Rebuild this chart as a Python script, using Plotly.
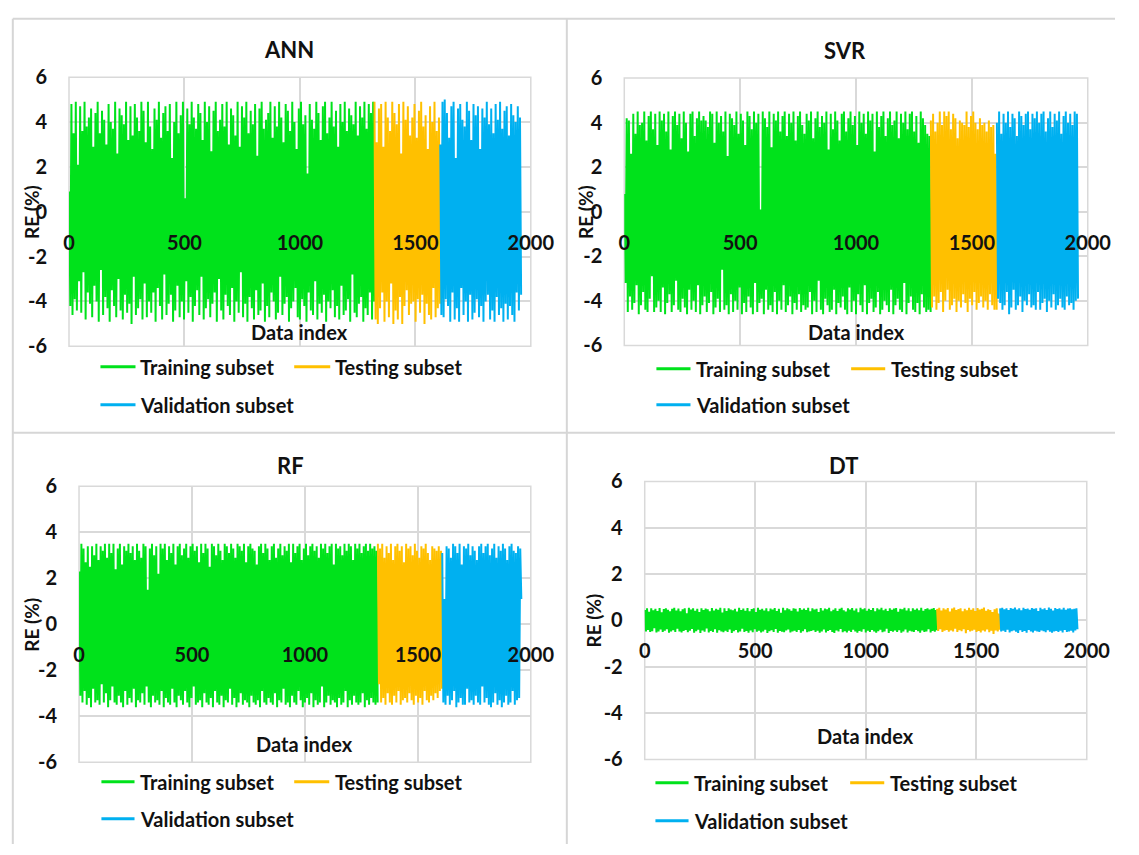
import numpy as np
import plotly.graph_objects as go

W, H = 1139, 855
FONT = "Lato, 'Open Sans', sans-serif"
TXT = "#111111"
GREEN, ORANGE, BLUE = "#00E21B", "#FFC000", "#00B0F0"
GRID = "#D9D9D9"

subset_names = ["Training subset", "Testing subset", "Validation subset"]
subset_colors = [GREEN, ORANGE, BLUE]
subset_ranges = [(1, 1322), (1323, 1607), (1608, 1958)]

x_ticks = [0, 500, 1000, 1500, 2000]
x_ticktext = ["0", "500", "1000", "1500", "2000"]
y_ticks = [-6, -4, -2, 0, 2, 4, 6]
y_ticktext = ["-6", "-4", "-2", "0", "2", "4", "6"]

# ---------------- ANN ----------------
ann_train = [0.9, -4.2, 4.8, -4.6, 3.5, -3.9, 4.9, -4.4, 2.1, -3.1, 4.7, -4.5, 3.6, -2.7, 4.9, -4.8, 3.8, -3.6, 4.2, -4.1,
             4.6, -4.7, 2.9, -3.3, 4.4, -4.0, 4.9, -4.9, 3.5, -2.6, 4.5, -4.6, 4.1, -3.8, 3.0, -4.3, 4.8, -4.9, 4.0, -3.5,
             3.7, -4.2, 4.9, -4.7, 2.6, -3.0, 4.6, -4.4, 4.3, -4.8, 3.9, -3.7, 4.9, -4.5, 3.2, -4.1, 4.7, -5.0, 3.4, -2.9,
             4.8, -4.6, 4.2, -4.3, 3.6, -3.9, 4.9, -4.8, 4.5, -3.2, 3.1, -4.7, 4.9, -4.0, 3.8, -4.5, 2.8, -3.6, 4.6, -4.9,
             4.1, -3.4, 4.9, -4.2, 3.3, -4.8, 4.4, -2.8, 4.7, -4.6, 3.6, -4.1, 4.8, -3.7, 2.4, -4.9, 4.0, -4.4, 4.9, -3.3,
             3.5, -4.7, 4.3, -4.0, 4.9, -4.8, 0.6, -3.1, 4.6, -4.5, 3.9, -3.8, 4.9, -4.9, 4.2, -4.2, 3.7, -3.5, 4.8, -4.6,
             4.4, -2.9, 3.2, -4.8, 4.9, -4.3, 4.0, -3.9, 4.7, -4.7, 2.7, -4.1, 4.5, -3.6, 4.9, -4.9, 3.6, -3.0, 4.1, -4.4,
             4.8, -4.8, 3.8, -3.7, 4.9, -4.2, 3.0, -4.6, 4.6, -3.4, 4.3, -4.9, 3.4, -4.0, 4.9, -4.5, 2.9, -2.7, 4.7, -4.7,
             4.2, -4.1, 4.9, -4.9, 3.5, -3.8, 4.5, -4.3, 3.9, -4.8, 4.8, -3.5, 2.5, -4.6, 4.6, -4.4, 4.9, -3.2, 3.7, -4.9,
             4.1, -4.2, 4.4, -4.7, 4.9, -3.6, 3.3, -4.0, 4.7, -4.8, 3.8, -4.5, 4.9, -2.9, 4.2, -4.6, 3.1, -4.1, 4.8, -3.8,
             4.5, -4.9, 3.6, -4.3, 4.9, -4.0, 4.0, -3.4, 2.8, -4.7, 4.6, -4.8, 4.9, -3.9, 3.9, -4.2, 4.3, -4.9, 1.7, -3.6,
             4.8, -4.4, 4.1, -4.6, 3.7, -3.1, 4.9, -4.8, 4.4, -4.1, 3.2, -4.5, 4.7, -3.7, 4.9, -4.9, 3.5, -4.0, 4.2, -4.3,
             4.9, -3.5, 3.8, -4.7, 4.5, -4.2, 2.9, -4.8, 4.8, -3.3, 4.0, -4.6, 4.9, -4.4, 3.6, -3.9, 4.6, -4.9, 4.3, -2.8,
             3.9, -4.5, 4.9, -4.7, 3.4, -4.1, 4.7, -3.8, 4.2, -4.9, 4.9, -4.3, 3.7, -4.6, 4.8, -3.6, 4.4, -4.8, 4.9, -4.0]
ann_test = [4.9, -4.8, 3.1, -5.0, 4.6, -4.3, 4.8, -3.6, 2.9, -4.9, 4.9, -4.0, 4.2, -4.7, 3.6, -3.2, 4.9, -5.0, 4.4, -4.4,
            3.9, -4.8, 4.8, -3.8, 2.6, -5.0, 4.9, -4.2, 4.1, -3.5, 4.7, -4.6, 3.4, -4.1, 4.2, -4.0, 4.8, -4.9, 3.3, -3.9,
            4.5, -4.5, 4.9, -3.7, 3.8, -5.0, 4.3, -4.1, 2.8, -4.6, 4.7, -4.8, 4.0, -3.4, 4.9, -4.7, 3.6, -4.3, 4.2, -4.1]
ann_val = [3.0, -4.6, 4.9, -4.7, 5.0, -3.9, 4.4, -4.2, 3.3, -4.9, 4.7, -3.6, 4.9, -4.8, 2.4, -4.3, 4.6, -4.9, 4.8, -3.4,
           4.1, -4.6, 3.8, -4.0, 4.9, -4.9, 4.5, -3.7, 3.2, -4.8, 4.8, -4.5, 4.3, -3.9, 4.7, -4.7, 2.8, -4.2, 4.6, -4.9,
           4.2, -4.0, 4.9, -3.7, 3.9, -4.8, 4.6, -4.4, 3.5, -4.9, 4.8, -3.8, 4.1, -4.6, 4.9, -4.3, 3.7, -4.9, 4.5, -4.1,
           4.7, -4.8, 3.4, -4.2, 4.8, -4.6, 4.3, -4.9, 4.0, -3.6, 4.7, -4.4, 4.2, -3.7]

# ---------------- SVR ----------------
svr_train = [0.8, -3.2, 4.2, -4.5, 4.1, -3.8, 2.6, -4.4, 4.4, -4.1, 3.5, -3.3, 4.5, -4.6, 3.9, -4.2, 4.0, -3.6, 4.5, -4.4,
             3.2, -4.5, 4.3, -3.9, 4.5, -2.9, 3.7, -4.5, 4.4, -4.3, 3.0, -4.0, 4.5, -4.5, 4.1, -3.4, 4.4, -4.6, 3.6, -4.1,
             4.5, -3.7, 2.8, -4.5, 4.3, -4.2, 4.5, -3.1, 3.9, -4.4, 4.4, -4.5, 3.3, -3.9, 4.5, -4.3, 4.0, -4.6, 2.7, -3.5,
             4.4, -4.4, 4.5, -4.0, 3.4, -4.5, 4.2, -3.3, 4.5, -4.6, 4.1, -4.2, 4.3, -3.8, 4.1, -4.5, 3.8, -4.1, 4.5, -3.6,
             4.4, -4.6, 3.1, -4.3, 4.5, -3.9, 4.0, -4.5, 4.3, -2.6, 3.6, -4.4, 4.5, -4.2, 2.5, -4.6, 4.4, -3.7, 4.2, -4.5,
             3.9, -4.0, 4.5, -4.4, 3.5, -3.4, 4.4, -4.6, 4.1, -4.1, 3.0, -4.5, 4.5, -3.8, 4.3, -4.3, 3.7, -4.6, 4.5, -3.2,
             4.0, -4.5, 4.4, -4.1, 0.1, -3.9, 4.5, -4.6, 4.2, -3.5, 3.8, -4.4, 4.5, -4.2, 2.9, -4.5, 4.4, -3.6, 4.1, -4.6,
             4.5, -4.0, 3.6, -4.4, 4.3, -3.3, 4.5, -4.5, 3.4, -4.2, 4.4, -3.8, 4.0, -4.6, 4.5, -4.1, 3.2, -4.4, 4.3, -3.7,
             4.5, -4.5, 3.9, -4.2, 3.5, -4.4, 4.4, -4.3, 4.1, -3.6, 4.5, -4.6, 3.3, -4.0, 4.2, -4.5, 4.5, -3.1, 3.8, -4.4,
             4.3, -4.6, 4.0, -3.9, 4.5, -4.2, 2.8, -4.5, 4.4, -4.4, 3.7, -3.5, 4.5, -4.6, 4.1, -4.1, 3.2, -4.3, 4.4, -3.8,
             4.5, -4.4, 3.6, -4.6, 4.2, -3.4, 4.5, -4.5, 3.9, -4.0, 4.3, -4.6, 3.0, -3.7, 4.5, -4.2, 4.0, -4.5, 4.4, -3.3,
             3.5, -4.6, 4.5, -4.1, 4.1, -3.9, 4.4, -4.5, 2.7, -4.3, 4.5, -3.6, 3.8, -4.6, 4.3, -4.4, 4.5, -4.0, 3.4, -4.2,
             4.2, -4.5, 4.5, -3.5, 3.9, -4.6, 4.1, -4.2, 4.5, -3.9, 3.3, -4.4, 4.4, -4.5, 4.0, -3.2, 4.5, -4.6, 3.7, -4.1,
             4.4, -3.8, 4.5, -4.4, 3.6, -4.5, 4.3, -4.1, 3.1, -4.6, 4.5, -3.7, 4.2, -4.3, 3.9, -4.5, 3.5, -4.4, 3.4, -4.5]
svr_test = [4.1, -4.3, 4.4, -3.8, 3.6, -4.4, 4.0, -4.1, 4.5, -3.6, 3.9, -4.5, 4.5, -4.0, 4.3, -3.5, 4.5, -4.4, 3.7, -4.2,
            4.4, -3.9, 4.2, -4.5, 3.3, -4.0, 4.1, -4.3, 4.0, -3.7, 3.9, -4.1, 4.5, -4.5, 3.8, -3.9, 4.3, -4.2, 4.5, -3.6,
            4.0, -4.4, 3.7, -4.1, 4.2, -3.8, 3.9, -4.3, 4.0, -4.0, 3.6, -4.4, 4.1, -3.7, 3.8, -4.2, 3.9, -4.4, 2.6, -4.4]
svr_val = [4.0, -3.9, 4.5, -4.1, 3.5, -4.4, 4.4, -4.2, 4.0, -3.6, 4.5, -4.6, 3.8, -4.3, 4.4, -3.5, 4.2, -4.4, 3.4, -4.2,
           4.5, -3.8, 4.3, -4.5, 3.9, -4.0, 4.4, -4.2, 4.5, -3.7, 3.7, -4.3, 4.4, -4.2, 4.2, -4.4, 4.5, -3.6, 4.0, -4.4,
           4.4, -4.1, 4.5, -3.9, 3.6, -4.5, 4.2, -4.0, 4.5, -4.3, 3.8, -3.7, 4.4, -4.4, 4.1, -4.2, 4.5, -3.9, 3.5, -4.3,
           4.3, -4.4, 4.5, -3.8, 4.0, -4.2, 4.4, -4.1, 3.9, -4.4, 4.5, -4.0, 4.4, -3.9]

# ---------------- RF ----------------
rf_train = [2.3, -3.1, 3.5, -3.4, 3.3, -2.9, 2.7, -3.5, 3.4, -3.2, 2.5, -3.6, 3.4, -2.8, 3.0, -3.4, 3.5, -3.3, 2.8, -3.5,
            3.4, -2.6, 3.2, -3.4, 3.5, -3.0, 2.9, -3.6, 3.5, -3.3, 3.1, -2.7, 3.5, -3.4, 2.4, -3.5, 3.3, -3.1, 3.5, -3.4,
            2.6, -3.6, 3.4, -2.9, 3.2, -3.5, 3.5, -3.2, 3.1, -3.4, 3.4, -2.8, 2.8, -3.6, 3.5, -3.3, 3.2, -3.4, 2.9, -3.0,
            3.5, -3.5, 3.4, -2.7, 1.5, -3.4, 3.3, -3.6, 3.5, -3.1, 3.0, -3.4, 3.4, -3.3, 2.2, -3.5, 3.5, -2.9, 3.3, -3.6,
            3.5, -3.2, 2.8, -3.4, 3.4, -3.5, 3.1, -2.8, 3.5, -3.4, 2.6, -3.6, 3.4, -3.1, 3.5, -3.3, 3.0, -3.5, 3.3, -2.9,
            3.5, -3.4, 2.9, -3.6, 3.4, -3.2, 3.5, -2.7, 3.2, -3.5, 3.4, -3.4, 2.7, -3.3, 3.5, -3.6, 3.1, -3.0, 3.5, -3.4,
            3.3, -3.5, 2.5, -3.2, 3.5, -3.6, 3.4, -2.9, 3.0, -3.4, 3.5, -3.5, 3.2, -3.1, 2.8, -3.6, 3.5, -3.3, 3.4, -3.4,
            3.1, -2.8, 3.5, -3.5, 3.3, -3.2, 2.9, -3.6, 3.5, -3.4, 3.4, -3.0, 3.2, -3.5, 3.5, -3.3, 2.7, -3.4, 3.4, -3.6,
            3.5, -3.1, 3.3, -3.4, 3.2, -3.5, 2.6, -3.3, 3.4, -3.6, 3.5, -2.9, 3.1, -3.4, 3.5, -3.5, 3.3, -3.2, 2.8, -3.4,
            3.4, -3.5, 3.5, -3.0, 2.9, -3.6, 3.3, -3.3, 3.5, -3.4, 3.0, -2.8, 3.4, -3.5, 3.2, -3.4, 3.5, -3.6, 2.7, -3.1,
            3.5, -3.4, 3.1, -3.5, 3.4, -2.9, 3.5, -3.3, 2.8, -3.6, 3.3, -3.4, 3.5, -3.2, 3.0, -3.5, 3.4, -3.0, 3.5, -3.6,
            3.2, -3.3, 3.4, -3.5, 2.9, -3.4, 3.5, -2.7, 3.3, -3.6, 3.5, -3.4, 3.1, -3.1, 3.4, -3.5, 3.5, -3.3, 2.6, -3.4,
            3.5, -3.6, 3.3, -3.2, 3.4, -3.5, 3.0, -3.4, 3.5, -2.9, 3.2, -3.6, 3.5, -3.3, 3.4, -3.5, 2.8, -3.1, 3.5, -3.4,
            3.3, -3.5, 3.5, -3.4, 3.1, -3.0, 3.4, -3.6, 3.5, -3.3, 3.2, -3.5, 3.5, -3.2, 3.3, -3.4, 3.4, -3.5, 3.2, -3.4]
rf_test = [3.5, -2.6, 3.3, -3.4, 3.5, -3.2, 2.9, -3.5, 3.4, -3.0, 3.1, -3.4, 3.5, -3.5, 2.8, -3.1, 3.4, -3.4, 3.5, -2.9,
           3.2, -3.5, 3.4, -3.3, 2.7, -3.2, 3.5, -3.4, 3.3, -3.0, 3.4, -3.3, 3.0, -3.5, 3.5, -3.1, 3.2, -3.4, 2.9, -3.2,
           3.4, -3.5, 3.3, -2.9, 3.5, -3.3, 3.1, -3.4, 2.8, -3.1, 3.4, -3.3, 3.3, -3.0, 3.2, -3.2, 3.4, -2.9, 3.2, -2.8]
rf_val = [3.1, -3.4, 1.1, -3.5, 3.4, -3.1, 3.3, -3.5, 2.9, -3.3, 3.5, -2.9, 3.4, -3.6, 3.1, -3.4, 3.5, -3.2, 2.6, -3.5,
          3.4, -3.5, 3.3, -2.8, 3.5, -3.4, 3.0, -3.3, 3.4, -3.5, 3.2, -3.1, 2.8, -3.4, 3.4, -3.5, 3.5, -2.7, 3.1, -3.4,
          3.4, -3.2, 3.5, -3.5, 3.0, -3.6, 3.3, -3.4, 3.5, -3.0, 2.9, -3.5, 3.4, -3.3, 3.2, -3.6, 3.5, -3.4, 3.3, -3.1,
          2.8, -3.5, 3.4, -3.4, 3.5, -2.9, 3.2, -3.5, 3.1, -3.3, 3.4, -3.2, 3.3, 1.1]

# ---------------- DT ----------------
dt_train = [0.45, -0.48, 0.52, -0.41, 0.37, -0.5, 0.53, -0.46, 0.44, -0.33, 0.5, -0.52, 0.41, -0.47, 0.54, -0.39, 0.35, -0.5, 0.49, -0.44,
            0.52, -0.38, 0.46, -0.53, 0.4, -0.47, 0.5, -0.42, 0.55, -0.5, 0.43, -0.36, 0.51, -0.48, 0.39, -0.52, 0.48, -0.45, 0.53, -0.41,
            0.31, -0.51, 0.55, -0.44, 0.47, -0.37, 0.52, -0.53, 0.42, -0.46, 0.5, -0.4, 0.36, -0.54, 0.53, -0.43, 0.45, -0.49, 0.51, -0.35,
            0.48, -0.52, 0.4, -0.45, 0.54, -0.5, 0.43, -0.38, 0.5, -0.53, 0.46, -0.42, 0.55, -0.47, 0.34, -0.51, 0.52, -0.44, 0.41, -0.5,
            0.53, -0.39, 0.47, -0.54, 0.44, -0.46, 0.5, -0.41, 0.38, -0.52, 0.55, -0.48, 0.45, -0.36, 0.51, -0.5, 0.42, -0.45, 0.54, -0.53,
            0.4, -0.43, 0.49, -0.51, 0.52, -0.38, 0.36, -0.49, 0.55, -0.44, 0.46, -0.52, 0.5, -0.47, 0.43, -0.4, 0.53, -0.54, 0.39, -0.46,
            0.51, -0.42, 0.47, -0.5, 0.54, -0.37, 0.41, -0.53, 0.5, -0.45, 0.33, -0.49, 0.55, -0.51, 0.44, -0.43, 0.52, -0.39, 0.48, -0.52,
            0.42, -0.47, 0.53, -0.44, 0.5, -0.5, 0.38, -0.41, 0.54, -0.53, 0.46, -0.46, 0.51, -0.38, 0.45, -0.51, 0.55, -0.48, 0.4, -0.45,
            0.52, -0.42, 0.47, -0.5, 0.5, -0.44, 0.36, -0.53, 0.54, -0.47, 0.43, -0.39, 0.51, -0.52, 0.48, -0.45, 0.55, -0.41, 0.39, -0.5,
            0.46, -0.54, 0.53, -0.43, 0.41, -0.48, 0.5, -0.37, 0.55, -0.51, 0.44, -0.46, 0.38, -0.52, 0.52, -0.44, 0.47, -0.5, 0.54, -0.4,
            0.43, -0.47, 0.51, -0.53, 0.35, -0.45, 0.55, -0.49, 0.48, -0.38, 0.53, -0.52, 0.42, -0.44, 0.5, -0.5, 0.45, -0.41, 0.54, -0.47,
            0.39, -0.53, 0.52, -0.46, 0.47, -0.4, 0.55, -0.51, 0.44, -0.48, 0.5, -0.36, 0.41, -0.54, 0.53, -0.45, 0.46, -0.49, 0.51, -0.43,
            0.54, -0.5, 0.37, -0.42, 0.5, -0.53, 0.48, -0.47, 0.55, -0.39, 0.43, -0.52, 0.52, -0.44, 0.4, -0.48, 0.53, -0.5, 0.46, -0.41,
            0.51, -0.46, 0.44, -0.53, 0.55, -0.43, 0.42, -0.5, 0.49, -0.47, 0.53, -0.38, 0.47, -0.52, 0.5, -0.45, 0.54, -0.49, 0.45, -0.42]
dt_test = [0.5, -0.45, 0.55, -0.38, 0.43, -0.5, 0.52, -0.44, 0.47, -0.41, 0.54, -0.49, 0.38, -0.43, 0.51, -0.47, 0.56, -0.36, 0.45, -0.5,
           0.49, -0.42, 0.53, -0.46, 0.4, -0.38, 0.5, -0.55, 0.44, -0.41, 0.55, -0.48, 0.46, -0.44, 0.52, -0.4, 0.41, -0.5, 0.54, -0.45,
           0.47, -0.52, 0.5, -0.43, 0.56, -0.47, 0.42, -0.39, 0.48, -0.51, 0.45, -0.44, 0.36, -0.58, 0.48, -0.43, 0.52, -0.47, 0.3, -0.4]
dt_val = [0.52, -0.47, 0.55, -0.44, 0.48, -0.5, 0.53, -0.4, 0.45, -0.52, 0.54, -0.46, 0.5, -0.43, 0.56, -0.49, 0.47, -0.54, 0.52, -0.42,
          0.44, -0.5, 0.55, -0.45, 0.49, -0.53, 0.51, -0.41, 0.46, -0.48, 0.54, -0.52, 0.5, -0.44, 0.53, -0.47, 0.41, -0.5, 0.55, -0.43,
          0.48, -0.46, 0.52, -0.51, 0.45, -0.42, 0.56, -0.49, 0.5, -0.53, 0.43, -0.47, 0.54, -0.45, 0.49, -0.5, 0.52, -0.44, 0.47, -0.52,
          0.55, -0.41, 0.46, -0.5, 0.51, -0.47, 0.53, -0.44, 0.48, -0.52, 0.5, -0.43, 0.52, -0.38]

model_titles = ["ANN", "SVR", "RF", "DT"]
model_data = [
    [ann_train, ann_test, ann_val],
    [svr_train, svr_test, svr_val],
    [rf_train, rf_test, rf_val],
    [dt_train, dt_test, dt_val],
]

# layout geometry (pixels): plot box, title, legend, labels
geo = [
    dict(L=64.7, R=539, T=66, B=343, tx=291, ty=38, ly1=364, ly2=403, tr=(97, 133, 136), te=(296, 333, 336), rex=26, diy=328),
    dict(L=635, R=1111, T=67, B=342, tx=862, ty=39, ly1=366, ly2=403, tr=(668, 703, 707), te=(868, 903, 907), rex=595, diy=328),
    dict(L=75, R=539, T=487, B=771, tx=292, ty=466, ly1=791, ly2=829, tr=(98, 132, 136), te=(296, 332, 336), rex=26, diy=752),
    dict(L=656, R=1110, T=482, B=768, tx=860, ty=466, ly1=792, ly2=831, tr=(667, 701, 705), te=(867, 902, 906), rex=603, diy=744),
]

def px(x):
    return x / W

def py(y):
    return 1 - y / H

fig = go.Figure()
annotations = []
shapes = []

for i, (title, series, g) in enumerate(zip(model_titles, model_data, geo), start=1):
    sfx = "" if i == 1 else str(i)
    xa, ya = "x" + sfx, "y" + sfx
    for name, color, rng, vals in zip(subset_names, subset_colors, subset_ranges, series):
        xs = np.linspace(rng[0], rng[1], len(vals))
        fig.add_trace(go.Scatter(x=xs, y=vals, mode="lines", name=name,
                                 line=dict(color=color, width=2.0, simplify=False),
                                 xaxis=xa, yaxis=ya, showlegend=False, hoverinfo="skip"))
    ydom = [py(g["B"]), py(g["T"])]
    fig.update_layout(**{
        "xaxis" + sfx: dict(domain=[px(g["L"]), px(g["R"])], range=[0, 2000],
                            tickvals=x_ticks, ticktext=x_ticktext,
                            ticks="outside", ticklen=13, tickcolor="rgba(0,0,0,0)",
                            tickfont=dict(family=FONT, size=20, color=TXT, weight="bold"),
                            showgrid=True, gridcolor=GRID, gridwidth=1.5,
                            zeroline=False, showline=False,
                            anchor="free", position=(ydom[0] + ydom[1]) / 2),
        "yaxis" + sfx: dict(domain=ydom, range=[-6, 6],
                            tickvals=y_ticks, ticktext=y_ticktext,
                            ticks="outside", ticklen=17, tickcolor="rgba(0,0,0,0)",
                            tickfont=dict(family=FONT, size=20, color=TXT, weight="bold"),
                            showgrid=True, gridcolor=GRID, gridwidth=1.5,
                            zeroline=False, showline=False, anchor=xa),
    })
    shapes.append(dict(type="rect", xref=xa + " domain", yref=ya + " domain",
                       x0=0, x1=1, y0=0, y1=1, line=dict(color=GRID, width=1.5), layer="below"))
    annotations.append(dict(text="<b>%s</b>" % title, x=px(g["tx"]), y=py(g["ty"]), xref="paper", yref="paper",
                            showarrow=False, xanchor="center", yanchor="middle",
                            font=dict(family=FONT, size=22, color=TXT)))
    annotations.append(dict(text="<b>Data index</b>", x=px((g["L"] + g["R"]) / 2), y=py(g["diy"]),
                            xref="paper", yref="paper", showarrow=False, xanchor="center", yanchor="middle",
                            font=dict(family=FONT, size=20, color=TXT)))
    annotations.append(dict(text="<b>RE (%)</b>", x=px(g["rex"]), y=py((g["T"] + g["B"]) / 2),
                            xref="paper", yref="paper", showarrow=False, xanchor="center", yanchor="middle",
                            textangle=-90, font=dict(family=FONT, size=19, color=TXT)))
    items = [(g["tr"], g["ly1"], 0), (g["te"], g["ly1"], 1), (g["tr"], g["ly2"], 2)]
    for (x0, x1, xt), yy, k in items:
        shapes.append(dict(type="line", xref="paper", yref="paper", x0=px(x0), x1=px(x1), y0=py(yy), y1=py(yy),
                           line=dict(color=subset_colors[k], width=3)))
        annotations.append(dict(text="<b>%s</b>" % subset_names[k], x=px(xt), y=py(yy), xref="paper", yref="paper",
                                showarrow=False, xanchor="left", yanchor="middle",
                                font=dict(family=FONT, size=20, color=TXT)))

BORDER = "#D6D6D6"
for (x0, y0, x1, y1) in [(7, 6, 1139, 6), (7, 6, 7, 855), (576, 6, 576, 855), (7, 432, 1139, 432)]:
    shapes.append(dict(type="line", xref="paper", yref="paper", x0=px(x0), x1=px(x1), y0=py(y0), y1=py(y1),
                       line=dict(color=BORDER, width=2)))

fig.update_layout(width=W, height=H, margin=dict(l=0, r=0, t=0, b=0),
                  paper_bgcolor="white", plot_bgcolor="white",
                  annotations=annotations, shapes=shapes, showlegend=False,
                  font=dict(family=FONT, color=TXT))

fig.write_html("out.html")
